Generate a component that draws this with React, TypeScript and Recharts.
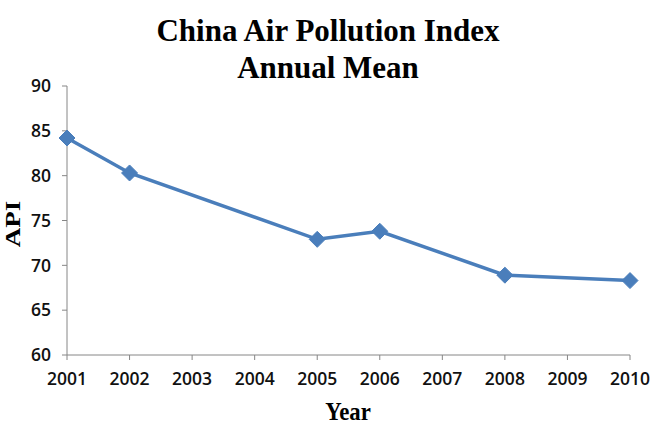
import React from 'react';
import { LineChart, Line, XAxis, YAxis } from 'recharts';

// annual mean API, years with published figures only
const years = [2001, 2002, 2005, 2006, 2008, 2010];
const apiValues = [84.2, 80.3, 72.9, 73.8, 68.9, 68.3];
const yearTicks = [2001, 2002, 2003, 2004, 2005, 2006, 2007, 2008, 2009, 2010];
const apiTicks = [60, 65, 70, 75, 80, 85, 90];

const data = years.map((year, i) => ({ year, api: apiValues[i] }));

const BLUE = '#4A7EBB';
const AXIS = '#868686';
const tickFont = { fontFamily: '"Open Sans", sans-serif', fontSize: 17.5, fontWeight: 600, fill: '#111' };
const serifBold: React.CSSProperties = {
  fontFamily: '"Liberation Serif", serif',
  fontWeight: 'bold',
  color: '#000',
  position: 'absolute',
  whiteSpace: 'nowrap',
};

const Diamond = (props: any) => {
  const { cx, cy } = props;
  if (cx == null || cy == null) return null;
  const r = 8;
  return (
    <path
      d={`M${cx},${cy - r} L${cx + r},${cy} L${cx},${cy + r} L${cx - r},${cy} Z`}
      fill={BLUE}
      stroke={BLUE}
      strokeWidth={1}
    />
  );
};

export default function App() {
  return (
    <div style={{ position: 'absolute', left: 0, top: 0, width: 654, height: 440, background: '#fff' }}>
      <LineChart
        width={654}
        height={440}
        data={data}
        margin={{ top: 86, right: 24, bottom: 40, left: 0 }}
      >
        <XAxis
          dataKey="year"
          type="number"
          domain={[2001, 2010]}
          ticks={yearTicks}
          interval={0}
          stroke={AXIS}
          tickSize={5}
          tickLine={{ stroke: AXIS }}
          tick={tickFont}
          height={45}
          tickMargin={13}
        />
        <YAxis
          type="number"
          domain={[60, 90]}
          ticks={apiTicks}
          interval={0}
          stroke={AXIS}
          tickSize={5}
          tickLine={{ stroke: AXIS }}
          tick={tickFont}
          width={67}
          tickMargin={11}
        />
        <Line
          type="linear"
          dataKey="api"
          stroke={BLUE}
          strokeWidth={3.5}
          dot={<Diamond />}
          activeDot={false}
          isAnimationActive={false}
        />
      </LineChart>
      <div
        style={{
          ...serifBold,
          left: 0,
          top: 12,
          width: 654,
          textAlign: 'center',
          fontSize: 31,
          lineHeight: '37px',
        }}
      >
        <div style={{ marginLeft: 2 }}>China Air Pollution Index</div>
        <div style={{ marginLeft: 2 }}>Annual Mean</div>
      </div>
      <div
        style={{
          ...serifBold,
          left: 348,
          top: 412,
          fontSize: 24,
          lineHeight: '24px',
          transform: 'translate(-50%, -50%) scale(0.95, 1.05)',
        }}
      >
        Year
      </div>
      <div
        style={{
          ...serifBold,
          left: 13,
          top: 224,
          fontSize: 27,
          lineHeight: '27px',
          transform: 'translate(-50%, -50%) rotate(-90deg) scale(1, 0.8)',
        }}
      >
        API
      </div>
    </div>
  );
}
